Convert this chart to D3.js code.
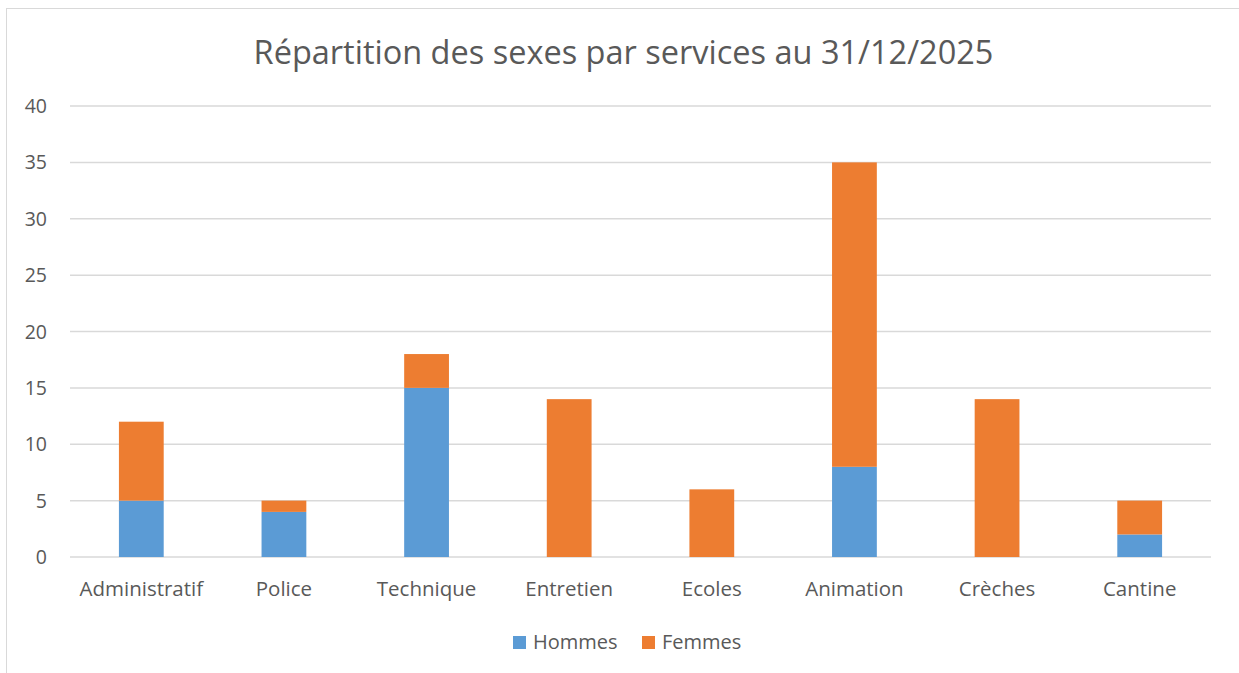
<!DOCTYPE html>
<html>
<head>
<meta charset="utf-8">
<script src="https://cdn.jsdelivr.net/npm/d3@7"></script>
<style>
  body { margin: 0; background: #fff; }
  svg { font-family: "Open Sans", "Liberation Sans", sans-serif; }
</style>
</head>
<body>
<svg width="1239" height="673"></svg>
<script>
// data
var categories = ["Administratif", "Police", "Technique", "Entretien", "Ecoles", "Animation", "Crèches", "Cantine"];
var hommes = [5, 4, 15, 0, 0, 8, 0, 2];
var femmes = [7, 1, 3, 14, 6, 27, 14, 3];
var seriesNames = ["Hommes", "Femmes"];
var seriesColors = ["#5B9BD5", "#ED7D31"];
var yTicks = [0, 5, 10, 15, 20, 25, 30, 35, 40];

var svgWidth = 1239, svgHeight = 673;
var plotLeft = 70, plotRight = 1211, plotTop = 106, plotBottom = 557;

var svg = d3.select("svg");

// chart border (cropped on right and bottom)
svg.append("rect")
    .attr("x", 6.5).attr("y", 8.5)
    .attr("width", 1300).attr("height", 700)
    .attr("fill", "none")
    .attr("stroke", "#d9d9d9");

var table = categories.map(function (c, i) {
    return { cat: c, Hommes: hommes[i], Femmes: femmes[i] };
});
var stacked = d3.stack().keys(seriesNames)(table);

var x = d3.scaleBand()
    .domain(categories)
    .range([plotLeft, plotRight])
    .paddingInner(0.686)
    .paddingOuter(0.343);

var y = d3.scaleLinear()
    .domain([0, 40])
    .range([plotBottom, plotTop]);

// gridlines
svg.append("g")
    .selectAll("line")
    .data(yTicks)
    .enter()
    .append("line")
    .attr("x1", plotLeft).attr("x2", plotRight)
    .attr("y1", function (d) { return y(d); })
    .attr("y2", function (d) { return y(d); })
    .attr("stroke", "#d9d9d9")
    .attr("stroke-width", 1.5);

// y labels
svg.append("g")
    .selectAll("text")
    .data(yTicks)
    .enter()
    .append("text")
    .attr("x", 47)
    .attr("y", function (d) { return y(d) + 7; })
    .attr("text-anchor", "end")
    .attr("font-size", 19.5)
    .attr("fill", "#595959")
    .text(function (d) { return d; });

// bars
svg.append("g")
    .selectAll("g")
    .data(stacked)
    .enter()
    .append("g")
    .attr("fill", function (d, i) { return seriesColors[i]; })
    .selectAll("rect")
    .data(function (d) { return d; })
    .enter()
    .append("rect")
    .attr("x", function (d) { return x(d.data.cat); })
    .attr("width", x.bandwidth())
    .attr("y", function (d) { return y(d[1]); })
    .attr("height", function (d) { return y(d[0]) - y(d[1]); });

// x labels
svg.append("g")
    .selectAll("text")
    .data(categories)
    .enter()
    .append("text")
    .attr("x", function (d) { return x(d) + x.bandwidth() / 2; })
    .attr("y", 596)
    .attr("text-anchor", "middle")
    .attr("font-size", 20.5)
    .attr("fill", "#595959")
    .text(function (d) { return d; });

// title
svg.append("text")
    .attr("x", 623.5)
    .attr("y", 64)
    .attr("text-anchor", "middle")
    .attr("font-size", 32.5)
    .attr("fill", "#595959")
    .text("Répartition des sexes par services au 31/12/2025");

// legend
var legendX = [513, 642];
var legend = svg.append("g")
    .selectAll("g")
    .data(seriesNames)
    .enter()
    .append("g")
    .attr("transform", function (d, i) { return "translate(" + legendX[i] + ",636)"; });
legend.append("rect")
    .attr("width", 13).attr("height", 13)
    .attr("fill", function (d, i) { return seriesColors[i]; });
legend.append("text")
    .attr("x", 20).attr("y", 13)
    .attr("font-size", 20)
    .attr("fill", "#595959")
    .text(function (d) { return d; });
</script>
</body>
</html>
